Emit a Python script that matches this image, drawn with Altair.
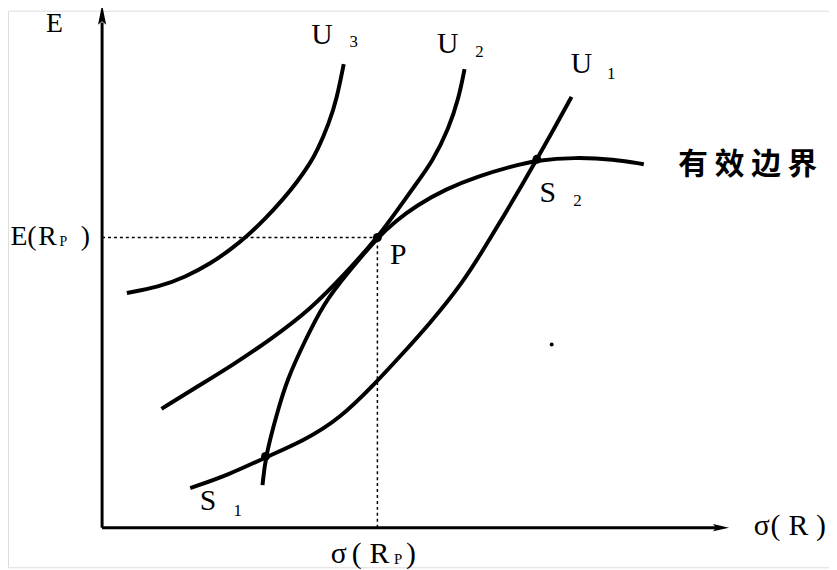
import altair as alt
import pandas as pd

# Coordinates: sigma (x, from y-axis) and E (y, from x-axis), in diagram units
U3_s = [25, 57, 84, 110, 130, 147, 164, 184, 197, 210, 217, 229, 237, 244]
U3_e = [237, 243, 253, 267, 281, 295, 311, 333, 349, 368, 380, 408, 433, 468]

U2_s = [60, 97, 130, 170, 210, 247, 278, 297, 314, 334, 350, 360, 366]
U2_e = [120, 143, 163, 190, 220, 258, 293, 319, 343, 370, 403, 433, 463]

U1_s = [89, 127, 165, 204, 240, 277, 300, 330, 364, 387, 407, 424, 439, 457, 474]
U1_e = [40, 53, 71, 88, 110, 147, 172, 205, 247, 284, 317, 346, 372, 404, 435]

EF_s = [162, 165, 177, 187, 204, 224, 247, 278, 297, 317, 347, 380, 414, 439, 477, 517, 547]
EF_e = [43, 72, 117, 150, 187, 227, 256, 293, 310, 325, 342, 355, 365, 371, 374, 372, 367]

pt_names = ["S1", "P", "S2"]
pt_s = [165, 278, 439]
pt_e = [72, 293, 372]

P_s, P_e = 278, 293
axis_top = 510
axis_right = 620

rows = []
for name, xs_, ys_ in [("U3", U3_s, U3_e), ("U2", U2_s, U2_e), ("U1", U1_s, U1_e), ("EF", EF_s, EF_e)]:
    for i, (a, b) in enumerate(zip(xs_, ys_)):
        rows.append({"curve": name, "s": a, "e": b, "o": i})
curves = pd.DataFrame(rows)
points = pd.DataFrame({"name": pt_names, "s": pt_s, "e": pt_e})

X = dict(scale=alt.Scale(domain=[-95, 734], nice=False, zero=False), axis=None)
Y = dict(scale=alt.Scale(domain=[-40, 522], nice=False, zero=False), axis=None)

def xs(f="s"):
    return alt.X(f"{f}:Q", **X)

def ys(f="e"):
    return alt.Y(f"{f}:Q", **Y)

lines = alt.Chart(curves).mark_line(color="black", strokeWidth=4, interpolate="basis").encode(
    x=xs(), y=ys(), detail="curve:N", order="o:Q"
)

dots = alt.Chart(points).mark_circle(color="black", size=80, opacity=1).encode(x=xs(), y=ys())
stray = alt.Chart(pd.DataFrame({"s": [454], "e": [185]})).mark_circle(color="black", size=16, opacity=1).encode(x=xs(), y=ys())

axes_df = pd.DataFrame({"s": [0, 0], "e": [0, 0], "s2": [0, axis_right], "e2": [axis_top, 0]})
axes = alt.Chart(axes_df).mark_rule(color="black", strokeWidth=3).encode(
    x=xs(), y=ys(), x2="s2:Q", y2="e2:Q"
)

dash_df = pd.DataFrame({"s": [0, P_s], "e": [P_e, 0], "s2": [P_s, P_s], "e2": [P_e, P_e]})
dashes = alt.Chart(dash_df).mark_rule(color="black", strokeWidth=1.5, strokeDash=[3, 3]).encode(
    x=xs(), y=ys(), x2="s2:Q", y2="e2:Q"
)

arrow_up = alt.Chart(pd.DataFrame({"s": [0], "e": [518]})).mark_point(
    shape="M0,-1L0.4,1L0,0.65L-0.4,1Z", size=420, filled=True, color="black", opacity=1
).encode(x=xs(), y=ys())
arrow_right = alt.Chart(pd.DataFrame({"s": [625], "e": [0]})).mark_point(
    shape="M1,0L-1,0.45L-0.65,0L-1,-0.45Z", size=260, filled=True, color="black", opacity=1
).encode(x=xs(), y=ys())

labels = pd.DataFrame([
    {"s": -48, "e": 508, "t": "E", "z": 28},
    {"s": 222, "e": 497, "t": "U", "z": 30},
    {"s": 254, "e": 490, "t": "3", "z": 17},
    {"s": 349, "e": 488, "t": "U", "z": 30},
    {"s": 381, "e": 480, "t": "2", "z": 17},
    {"s": 484, "e": 468, "t": "U", "z": 30},
    {"s": 514, "e": 458, "t": "1", "z": 17},
    {"s": 450, "e": 338, "t": "S", "z": 30},
    {"s": 480, "e": 330, "t": "2", "z": 17},
    {"s": 107, "e": 27, "t": "S", "z": 30},
    {"s": 137, "e": 17, "t": "1", "z": 17},
    {"s": 299, "e": 275, "t": "P", "z": 30},
    {"s": -84, "e": 293, "t": "E", "z": 28},
    {"s": -71, "e": 293, "t": "(", "z": 28},
    {"s": -55, "e": 293, "t": "R", "z": 28},
    {"s": -39, "e": 288, "t": "P", "z": 14},
    {"s": -17, "e": 293, "t": ")", "z": 28},
    {"s": 239, "e": -27, "t": "σ", "z": 30},
    {"s": 257, "e": -27, "t": "(", "z": 30},
    {"s": 280, "e": -27, "t": "R", "z": 30},
    {"s": 299, "e": -32, "t": "P", "z": 15},
    {"s": 312, "e": -27, "t": ")", "z": 30},
    {"s": 666, "e": 2, "t": "σ", "z": 30},
    {"s": 680, "e": 2, "t": "(", "z": 30},
    {"s": 703, "e": 2, "t": "R", "z": 30},
    {"s": 726, "e": 2, "t": ")", "z": 30},
])
text = alt.Chart(labels).mark_text(font="Liberation Serif", color="black", align="center", baseline="middle").encode(
    x=xs(), y=ys(), text="t:N", size=alt.Size("z:Q", scale=None, legend=None)
)

cn = alt.Chart(pd.DataFrame({"s": [652], "e": [366], "t": ["有 效 边 界"]})).mark_text(
    font="Noto Sans CJK SC", fontSize=30, fontWeight="bold", color="black", align="center", baseline="middle"
).encode(x=xs(), y=ys(), text="t:N")

chart = alt.layer(axes, dashes, lines, dots, stray, arrow_up, arrow_right, text, cn).properties(
    width=829, height=562, padding=0, autosize=alt.AutoSizeParams(type="none")
).configure_view(stroke=None).configure(background="white")

chart.save("out.html", embed_options={"renderer": "svg", "actions": False})
